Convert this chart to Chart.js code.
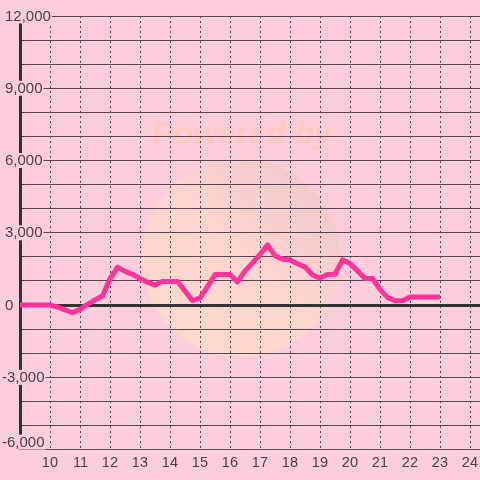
<!DOCTYPE html>
<html><head><meta charset="utf-8">
<script src="https://cdn.jsdelivr.net/npm/chart.js@4"></script>
<style>html,body{margin:0;padding:0;background:#fccddb;overflow:hidden;}</style>
</head><body>
<canvas id="c" width="480" height="480"></canvas>
<script>
const hours = [9,9.25,9.5,9.75,10,10.25,10.5,10.75,11,11.25,11.5,11.75,12,12.25,12.5,12.75,13,13.25,13.5,13.75,14,14.25,14.5,14.75,15,15.25,15.5,15.75,16,16.25,16.5,16.75,17,17.25,17.5,17.75,18,18.25,18.5,18.75,19,19.25,19.5,19.75,20,20.25,20.5,20.75,21,21.25,21.5,21.75,22,22.25,22.5,22.75,23];
const values = [0,0,0,0,0,-80,-200,-320,-180,30,220,380,1100,1570,1400,1280,1100,950,830,980,980,980,580,180,300,760,1270,1270,1270,960,1420,1750,2100,2500,2050,1900,1870,1720,1580,1250,1120,1270,1280,1880,1720,1420,1100,1100,650,320,180,180,330,330,330,330,330];
const xTicks = [10,11,12,13,14,15,16,17,18,19,20,21,22,23,24];
const yTicks = [-6000,-5000,-4000,-3000,-2000,-1000,0,1000,2000,3000,4000,5000,6000,7000,8000,9000,10000,11000,12000];
const yLabelValues = [-6000,-3000,0,3000,6000,9000,12000];

const BG = '#fccddb';
const GRID = '#5a4252';
const TEXT = '#4d4049';
const FONT = '"Liberation Sans", Arial, sans-serif';

const bgPlugin = {
  id: 'bg',
  beforeDraw(chart) {
    const ctx = chart.ctx;
    ctx.save();
    ctx.fillStyle = BG;
    ctx.fillRect(0, 0, chart.width, chart.height);
    const g = ctx.createLinearGradient(170, 330, 310, 180);
    g.addColorStop(0, 'rgba(255,228,190,0.55)');
    g.addColorStop(0.5, 'rgba(255,222,196,0.5)');
    g.addColorStop(1, 'rgba(225,200,185,0.4)');
    ctx.fillStyle = g;
    ctx.beginPath();
    ctx.arc(241, 258, 99, 0, Math.PI * 2);
    ctx.fill();
    ctx.fillStyle = 'rgba(255,200,170,0.5)';
    ctx.font = 'italic bold 32px ' + FONT;
    ctx.textAlign = 'center';
    ctx.textBaseline = 'alphabetic';
    ctx.fillText('Powered by', 242, 144);
    ctx.restore();
  }
};

const yLabelPlugin = {
  id: 'ylabels',
  beforeDatasetsDraw(chart) {
    const ctx = chart.ctx;
    const scale = chart.scales.y;
    const area = chart.chartArea;
    ctx.save();
    ctx.font = '15px ' + FONT;
    ctx.textAlign = 'left';
    ctx.textBaseline = 'middle';
    yLabelValues.forEach(v => {
      const txt = v.toLocaleString('en-US');
      let y = scale.getPixelForValue(v);
      y = Math.min(y, area.bottom - 7.5);
      const x = v < 0 ? 2 : 5;
      const w = ctx.measureText(txt).width;
      ctx.fillStyle = BG;
      ctx.fillRect(x, y - 7.5, w + 1, 15);
      ctx.fillStyle = TEXT;
      ctx.fillText(txt, x, y + 0.5);
    });
    ctx.restore();
  }
};

new Chart(document.getElementById('c'), {
  type: 'line',
  data: {
    datasets: [{
      data: hours.map((h, i) => ({x: h, y: values[i]})),
      borderColor: '#ff3399',
      borderWidth: 5,
      pointRadius: 0,
      tension: 0,
      borderJoinStyle: 'round',
      fill: false
    }]
  },
  options: {
    responsive: false,
    devicePixelRatio: 1,
    animation: false,
    layout: {padding: {left: 20, right: 0, top: 16, bottom: 3}},
    plugins: {legend: {display: false}, tooltip: {enabled: false}},
    scales: {
      x: {
        type: 'linear',
        min: 9,
        max: 24.3333,
        afterBuildTicks: s => { s.ticks = xTicks.map(v => ({value: v})); },
        ticks: {
          autoSkip: false, maxRotation: 0, padding: 5,
          align: 'end', labelOffset: 8,
          color: TEXT,
          font: {family: FONT, size: 14.5},
          callback: v => String(v)
        },
        grid: {color: GRID, lineWidth: 1, drawTicks: false},
        border: {display: true, color: GRID, width: 1, dash: [2, 3]}
      },
      y: {
        type: 'linear',
        min: -6000,
        max: 12000,
        afterBuildTicks: s => { s.ticks = yTicks.map(v => ({value: v})); },
        ticks: {display: false},
        grid: {
          drawTicks: false,
          color: c => (c.tick && c.tick.value === 0) ? '#333333' : GRID,
          lineWidth: c => (c.tick && c.tick.value === 0) ? 3 : 1
        },
        border: {display: true, color: '#333333', width: 3}
      }
    }
  },
  plugins: [bgPlugin, yLabelPlugin]
});
</script>
</body></html>
